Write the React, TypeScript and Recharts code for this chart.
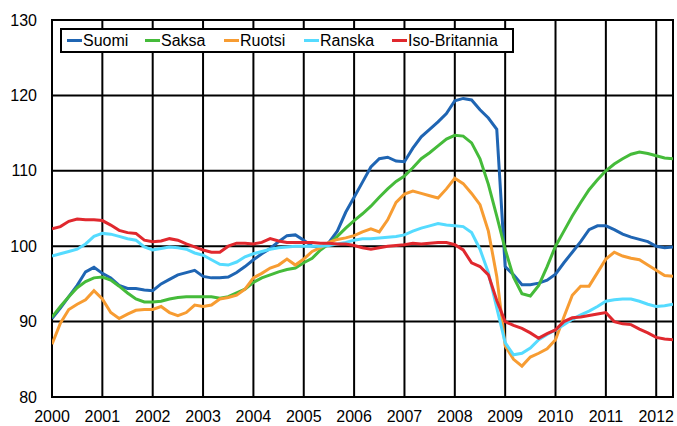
import React from "react";
import {
  LineChart,
  Line,
  XAxis,
  YAxis,
  CartesianGrid,
  Legend,
  ReferenceArea,
} from "recharts";

// Bimonthly observations from Jan 2000 to May 2012 (index 2005=100)
const START_YEAR = 2000;
const STEP_MONTHS = 2;

const suomi = [
  90.4, 91.8, 93.3, 94.8, 96.6, 97.2, 96.4, 95.8, 94.8, 94.4, 94.4, 94.2,
  94.1, 95.0, 95.6, 96.2, 96.5, 96.8, 96.0, 95.8, 95.8, 95.9, 96.5, 97.3,
  98.2, 99.0, 99.7, 100.6, 101.4, 101.5, 100.8, 100.0, 99.8, 100.5, 102.0, 104.5,
  106.5, 108.5, 110.5, 111.6, 111.8, 111.3, 111.2, 113.0, 114.5, 115.5, 116.5, 117.6,
  119.3, 119.6, 119.4, 118.1, 117.0, 115.5, 97.3, 96.2, 94.9, 94.9, 95.1, 95.5,
  96.3, 97.8, 99.2, 100.6, 102.2, 102.7, 102.7, 102.2, 101.6, 101.2, 100.9, 100.6,
  100.0, 99.8, 99.9,
];

const saksa = [
  90.6, 92.0, 93.3, 94.5, 95.3, 95.8, 95.9, 95.5, 94.7, 93.8, 93.0, 92.6,
  92.6, 92.7, 93.0, 93.2, 93.3, 93.3, 93.3, 93.3, 93.1, 93.3, 93.8, 94.3,
  95.2, 95.8, 96.2, 96.6, 96.9, 97.1, 97.8, 98.4, 99.5, 100.3, 101.3, 102.4,
  103.4, 104.3, 105.3, 106.5, 107.6, 108.6, 109.3, 110.4, 111.6, 112.4, 113.3, 114.2,
  114.7, 114.6, 113.7, 111.6, 108.2, 104.0, 99.6, 95.9, 93.7, 93.4, 94.8, 97.3,
  100.0, 102.0, 104.0, 105.8, 107.5, 108.8, 110.0, 110.9, 111.6, 112.2, 112.5, 112.3,
  112.0, 111.7, 111.6,
];

const ruotsi = [
  87.0, 89.8, 91.6, 92.3, 92.9, 94.1, 93.0, 91.2, 90.4, 91.0, 91.5, 91.6,
  91.6, 92.0, 91.2, 90.8, 91.2, 92.2, 92.0, 92.2, 93.0, 93.2, 93.5, 94.3,
  95.8, 96.4, 97.1, 97.5, 98.3, 97.5, 98.3, 99.3, 99.8, 100.5, 100.9, 101.1,
  101.4, 101.9, 102.3, 101.9, 103.5, 105.8, 106.9, 107.3, 107.0, 106.7, 106.4, 107.6,
  109.0, 108.3, 107.0, 105.5, 102.0, 96.0, 86.8, 85.0, 84.1, 85.3, 85.8, 86.4,
  87.6, 90.6, 93.5, 94.7, 94.7, 96.5, 98.3, 99.2, 98.7, 98.4, 98.2, 97.5,
  96.8, 96.1, 96.0,
];

const ranska = [
  98.7, 99.0, 99.3, 99.6, 100.3, 101.3, 101.7, 101.6, 101.3, 101.0, 100.8, 99.9,
  99.5, 99.7, 99.9, 99.8, 99.6, 99.1, 98.8, 98.2, 97.6, 97.5, 97.9, 98.6,
  99.0, 99.3, 99.6, 99.8, 99.9, 100.0, 100.0, 100.0, 100.0, 100.1, 100.3, 100.5,
  100.8, 101.0, 101.0, 101.1, 101.2, 101.3, 101.5, 102.0, 102.4, 102.7, 103.0, 102.8,
  102.7, 102.6, 101.8, 99.6, 96.5, 91.8, 87.2, 85.6, 85.8, 86.5, 87.6, 88.3,
  88.9, 89.6, 90.3, 90.9, 91.4, 92.0, 92.7, 92.9, 93.0, 93.0, 92.7, 92.3,
  92.0, 92.1, 92.3,
];

const isoBritannia = [
  102.3, 102.6, 103.3, 103.6, 103.5, 103.5, 103.4, 102.8, 102.1, 101.8, 101.7, 100.8,
  100.6, 100.7, 101.0, 100.8, 100.3, 99.9, 99.5, 99.2, 99.2, 100.0, 100.4, 100.4,
  100.3, 100.5, 101.0, 100.7, 100.5, 100.5, 100.5, 100.5, 100.4, 100.4, 100.3, 100.3,
  100.1, 99.8, 99.6, 99.8, 100.0, 100.1, 100.2, 100.4, 100.3, 100.4, 100.5, 100.5,
  100.2, 99.5, 97.8, 97.3, 96.2, 92.8, 90.0, 89.5, 89.1, 88.5, 87.8, 88.4,
  88.9, 90.0, 90.5, 90.6, 90.8, 91.0, 91.2, 90.0, 89.7, 89.6, 89.0, 88.5,
  87.9, 87.7, 87.6,
];

const yearTicks = [2000, 2001, 2002, 2003, 2004, 2005, 2006, 2007, 2008, 2009, 2010, 2011, 2012];
const valueTicks = [80, 90, 100, 110, 120, 130];

const seriesInfo = [
  { key: "suomi", name: "Suomi", color: "#1F65B3", values: suomi },
  { key: "saksa", name: "Saksa", color: "#45BB3A", values: saksa },
  { key: "ruotsi", name: "Ruotsi", color: "#F79C32", values: ruotsi },
  { key: "ranska", name: "Ranska", color: "#55DBFF", values: ranska },
  { key: "isoBritannia", name: "Iso-Britannia", color: "#E0282E", values: isoBritannia },
];

const data = suomi.map((_, i) => {
  const row: Record<string, number> = { t: START_YEAR + (i * STEP_MONTHS) / 12 };
  seriesInfo.forEach((s) => {
    row[s.key] = s.values[i];
  });
  return row;
});

const FONT = "'Liberation Sans', Arial, sans-serif";
const legendOffsets = [5, 83, 162, 242, 330];

const LegendBox = () => (
  <div
    style={{
      position: "relative",
      width: 454,
      height: 25,
      boxSizing: "border-box",
      border: "2px solid #000",
      background: "#fff",
      fontFamily: FONT,
      fontSize: 16,
      color: "#000",
    }}
  >
    {seriesInfo.map((s, i) => (
      <div
        key={s.key}
        style={{
          position: "absolute",
          left: legendOffsets[i],
          top: 1,
          display: "flex",
          alignItems: "center",
          whiteSpace: "nowrap",
          lineHeight: "19px",
        }}
      >
        <span
          style={{
            display: "inline-block",
            width: 15,
            height: 3,
            background: s.color,
            marginRight: 1,
          }}
        />
        <span>{s.name}</span>
      </div>
    ))}
  </div>
);

export default function App() {
  return (
    <div style={{ position: "absolute", left: 0, top: 0, width: 677, height: 426, background: "#fff" }}>
      <LineChart
        width={677}
        height={426}
        data={data}
        margin={{ top: 20, right: 4, bottom: 0, left: 0 }}
      >
        <CartesianGrid stroke="#000" strokeWidth={2} horizontalValues={valueTicks} verticalValues={yearTicks} />
        <ReferenceArea
          x1={2000}
          x2={2012 + 4 / 12}
          y1={80}
          y2={130}
          fill="none"
          stroke="#000"
          strokeWidth={2}
          ifOverflow="extendDomain"
        />
        <XAxis
          dataKey="t"
          type="number"
          domain={[2000, 2012 + 4 / 12]}
          ticks={yearTicks}
          allowDataOverflow
          axisLine={false}
          tickLine={false}
          tickSize={0}
          tickMargin={14}
          height={29}
          interval={0}
          tick={{ fill: "#000", fontSize: 16, fontFamily: FONT }}
        />
        <YAxis
          type="number"
          domain={[80, 130]}
          ticks={valueTicks}
          allowDataOverflow
          axisLine={false}
          tickLine={false}
          tickSize={0}
          tickMargin={15}
          width={52}
          interval={0}
          tick={{ fill: "#000", fontSize: 16, fontFamily: FONT }}
        />
        {seriesInfo.map((s) => (
          <Line
            key={s.key}
            type="linear"
            dataKey={s.key}
            name={s.name}
            stroke={s.color}
            strokeWidth={3}
            dot={false}
            isAnimationActive={false}
          />
        ))}
        <Legend
          layout="horizontal"
          verticalAlign="middle"
          align="center"
          content={() => <LegendBox />}
          wrapperStyle={{ position: "absolute", left: 60, top: 28, width: 454, height: 25 }}
        />
      </LineChart>
    </div>
  );
}
